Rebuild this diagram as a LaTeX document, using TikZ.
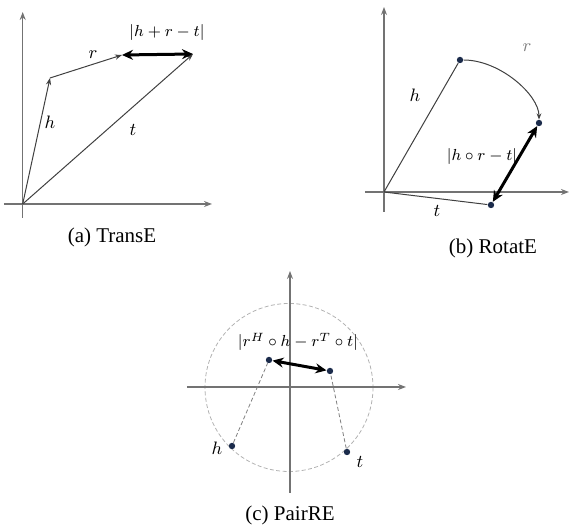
\documentclass[tikz,border=0pt]{standalone}
\usepackage{fontspec}
\setmainfont{Liberation Serif}
\usetikzlibrary{arrows.meta}
\definecolor{dotblue}{HTML}{1B2B4B}
\begin{document}
\begin{tikzpicture}[x=0.5pt,y=-0.5pt,
  axis/.style={draw=black!55, line width=0.6pt, -{Stealth[length=4pt,width=3pt]}},
  vec/.style={draw=black!75, line width=0.5pt, -{Stealth[length=3.5pt,width=2.6pt]}},
  plain/.style={draw=black!75, line width=0.5pt},
  thickarr/.style={draw=black, line width=1.5pt, {Stealth[length=5.5pt,width=5pt]}-{Stealth[length=5.5pt,width=5pt]}},
  dashline/.style={draw=black!50, line width=0.4pt, dash pattern=on 2pt off 1.2pt},
  dot/.style={circle, fill=dotblue, inner sep=0pt, minimum size=3.2pt},
  lbl/.style={font=\fontsize{8}{9}\selectfont, inner sep=1pt},
  single/.style={font=\fontsize{9}{10}\selectfont, inner sep=1pt},
  captext/.style={font=\fontsize{10.5}{12}\selectfont, inner sep=1pt}]
\useasboundingbox (0,0) rectangle (570,528);

% ---------- (a) TransE ----------
\coordinate (aO) at (22.7,204);
\coordinate (aYs) at (22.7,218);
\coordinate (aYe) at (22.7,12);
\coordinate (aXs) at (4,204);
\coordinate (aXe) at (212,204);
\draw[axis] (aYs) -- (aYe);
\draw[axis] (aXs) -- (aXe);
\coordinate (aH) at (50,78);
\coordinate (aR) at (122,55);
\coordinate (aT) at (193,54);
\draw[vec] (aO) -- (aH);
\draw[vec] (aH) -- (aR);
\draw[vec] (aO) -- (aT);
\draw[thickarr] (aR) -- (aT);
\node[lbl] (aL) at (167,33) {$|h+r-t|$};
\node[single] (aLr) at (93,55) {$r$};
\node[single] (aLh) at (50,122) {$h$};
\node[single] (aLt) at (133,130) {$t$};
\node[captext] (aC) at (112,237) {(a) TransE};

% ---------- (b) RotatE ----------
\coordinate (bO) at (384,192);
\coordinate (bYs) at (384,212);
\coordinate (bYe) at (384,7);
\coordinate (bXs) at (365,192);
\coordinate (bXe) at (569,192);
\draw[axis] (bYs) -- (bYe);
\draw[axis] (bXs) -- (bXe);
\node[dot] (bH) at (460,60) {};
\node[dot] (bR) at (539,123) {};
\node[dot] (bT) at (491,205) {};
\draw[plain] (bO) -- (bH);
\draw[plain] (bO) -- (bT);
\draw[plain, -{Stealth[length=3pt,width=2.4pt]}] (bH) .. controls (500,60) and (539,95) .. (bR);
\draw[thickarr] (bT) -- (bR);
\node[single] (bLh) at (415,95) {$h$};
\node[single] (bLt) at (437,211) {$t$};
\node[single, text=black!50] (bLr) at (527,48) {$r$};
\node[lbl] (bL) at (482,157) {$|h\circ r-t|$};
\node[captext] (bC) at (493,248) {(b) RotatE};

% ---------- (c) PairRE ----------
\coordinate (cO) at (290,387);
\coordinate (cYs) at (290,493);
\coordinate (cYe) at (290,271);
\coordinate (cXs) at (187,387);
\coordinate (cXe) at (406,387);
\draw[dashline, draw=black!30] (289,387.5) circle (84);
\draw[axis] (cYs) -- (cYe);
\draw[axis] (cXs) -- (cXe);
\node[dot] (cH) at (232,446) {};
\node[dot] (cT) at (347,452) {};
\node[dot] (cA) at (269,360) {};
\node[dot] (cB) at (330,371) {};
\draw[dashline] (cH) -- (cA);
\draw[dashline] (cT) -- (cB);
\draw[thickarr] (cA) -- (cB);
\node[lbl] (cL) at (298,342) {$|r^H\circ h-r^T\circ t|$};
\node[single] (cLh) at (217,448) {$h$};
\node[single] (cLt) at (360,462) {$t$};
\node[captext] (cC) at (290,515) {(c) PairRE};
\end{tikzpicture}
\end{document}
